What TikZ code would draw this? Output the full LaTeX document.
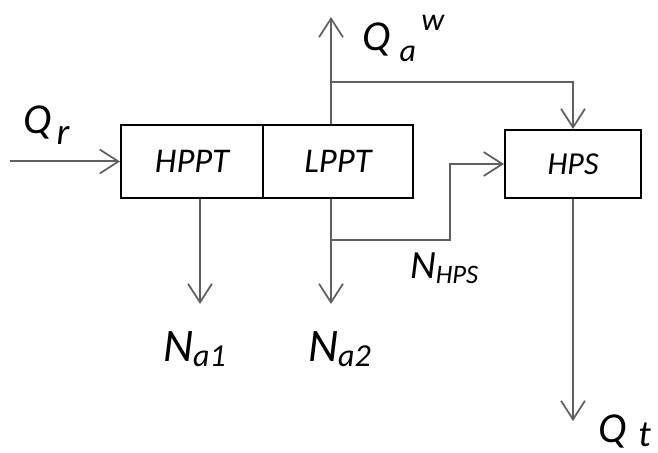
\documentclass[tikz,border=0pt]{standalone}
\usepackage{fontspec}
\setmainfont{Carlito}
\usetikzlibrary{arrows.meta}

\definecolor{flowgray}{RGB}{96,96,96}
\tikzset{every picture/.style={line width=1.5pt}}
\tikzset{
	unitbox/.style={draw=black, rectangle, inner sep=0pt, font=\fontsize{26}{30}\selectfont\itshape},
	flow/.style={draw=flowgray, -{Straight Barb[length=14pt,width=18pt,line width=1.3pt]}},
	tag/.style={inner sep=0pt, anchor=base west, font=\itshape}
}
% #1 size, #2 shift, #3 text
\newcommand{\shiftidx}[3]{\raisebox{#2}{\fontsize{#1}{#1}\selectfont #3}}
\newcommand{\bigQ}{\fontsize{32}{34}\selectfont Q}
\newcommand{\bigN}{\fontsize{35}{38}\selectfont N}

\begin{document}
\begin{tikzpicture}[x=0.75pt,y=0.75pt,yscale=-1,xscale=1]
	\useasboundingbox (0,0) rectangle (658,453);
	
	% units
	\node [unitbox, minimum width=106.5pt, minimum height=54.75pt] (hppt) at (192,161.5) {HPPT};
	\node [unitbox, minimum width=112.5pt, minimum height=54.75pt] (lppt) at (338,161.5) {LPPT};
	\node [unitbox, minimum width=102pt, minimum height=51pt, font=\fontsize{24}{28}\selectfont\itshape] (hps) at (573,164) {HPS};
	
	% free ends and branch points
	\coordinate (qrin) at (10,161.5);
	\coordinate (qaout) at (331,17);
	\coordinate (splitA) at (331,82);
	\coordinate (na1out) at (200,304);
	\coordinate (na2out) at (331,304);
	\coordinate (splitB) at (331,240);
	\coordinate (bend) at (450,240);
	\coordinate (qtout) at (573,421);
	
	% streams
	\draw [flow] (qrin) -- (hppt.west);
	\draw [flow] (lppt.north -| qaout) -- (qaout);
	\draw [flow] (splitA) -| (hps.north);
	\draw [flow] (hppt.south -| na1out) -- (na1out);
	\draw [flow] (lppt.south -| na2out) -- (na2out);
	\draw [flow] (splitB) -- (bend) |- (hps.west);
	\draw [flow] (hps.south) -- (qtout);
	
	% labels
	\node [tag] (qr) at (22,134) {\bigQ\kern4pt\shiftidx{28pt}{-8pt}{r}};
	\node [tag] (qa) at (361,51) {\bigQ\kern7pt\shiftidx{24pt}{-8pt}{a}\kern4pt\shiftidx{24pt}{15pt}{w}};
	\node [tag] (na1) at (162,361) {\bigN\shiftidx{24pt}{-3.75pt}{a1}};
	\node [tag] (na2) at (307,361) {\bigN\shiftidx{24pt}{-3.75pt}{a2}};
	\node [tag] (nhps) at (409,278) {{\fontsize{30}{32}\selectfont N}\shiftidx{20pt}{-3.75pt}{HPS}};
	\node [tag] (qt) at (597,442) {\bigQ\kern9pt\shiftidx{28pt}{-3pt}{t}};
	
\end{tikzpicture}
\end{document}
